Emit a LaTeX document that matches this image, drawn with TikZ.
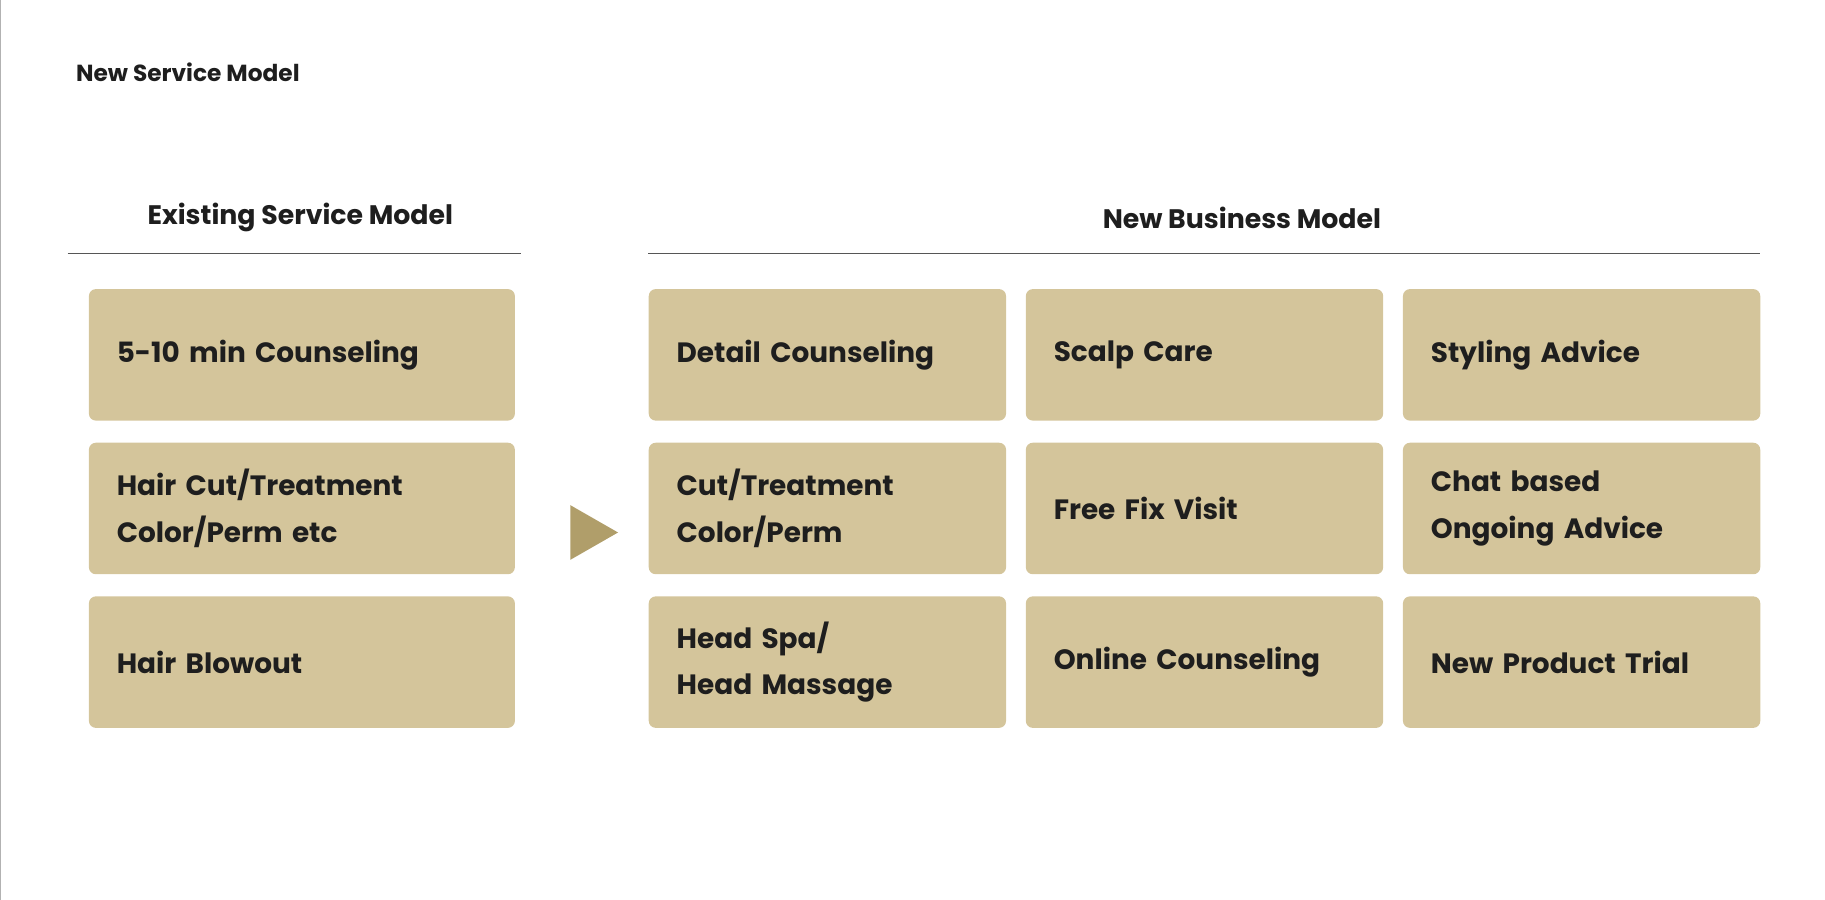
\documentclass[tikz,border=0pt]{standalone}
\usepackage{fontspec}
\setmainfont{Poppins}
\usetikzlibrary{positioning}
\definecolor{boxfill}{HTML}{D4C59B}
\definecolor{arrowfill}{HTML}{B09E6A}
\definecolor{ink}{HTML}{1E1E1E}
\tikzset{
  every picture/.style={line width=0.75pt},
  cell/.style={fill=boxfill, rounded corners=6pt, anchor=north west, inner xsep=24pt,
    minimum height=113pt, align=left, text=ink, font=\fontsize{24}{40}\selectfont\bfseries},
  wide/.style={cell, text width=318pt},
  narrow/.style={cell, text width=259pt},
  head/.style={text=ink, font=\fontsize{23}{28}\selectfont\bfseries, inner sep=0pt},
  rule/.style={draw=ink!75, line width=1.2pt}
}
\begin{document}
\begin{tikzpicture}[x=1pt,y=1pt,yscale=-1]
\useasboundingbox (0,0) rectangle (1568,773);
\draw[gray!60, line width=1pt] (0.5,0) -- (0.5,773);

% Title
\node[head, anchor=west, font=\fontsize{20}{24}\selectfont\bfseries] (title) at (65,62) {New Service Model};

% Headers
\node[head] (hexist) at (258,187) {Existing Service Model};
\node[head] (hnew) at (1067,187) {New Business Model};
\draw[rule] (58,218) -- (448,218);
\draw[rule] (557,218) -- (1512,218);

% Existing model
\node[wide] (e1) at (76,248) {5-10 min Counseling};
\node[wide] (e2) at (76,380) {Hair Cut/Treatment\\Color/Perm etc};
\node[wide] (e3) at (76,512) {Hair Blowout};

% Arrow
\fill[arrowfill] (490,434) -- (531,457.5) -- (490,481) -- cycle;

% New model
\node[narrow] (n11) at (557,248) {Detail Counseling};
\node[narrow] (n12) at (881,248) {Scalp Care};
\node[narrow] (n13) at (1205,248) {Styling Advice};
\node[narrow] (n21) at (557,380) {Cut/Treatment\\Color/Perm};
\node[narrow] (n22) at (881,380) {Free Fix Visit};
\node[narrow] (n23) at (1205,380) {Chat based\\Ongoing Advice};
\node[narrow] (n31) at (557,512) {Head Spa/\\Head Massage};
\node[narrow] (n32) at (881,512) {Online Counseling};
\node[narrow] (n33) at (1205,512) {New Product Trial};
\end{tikzpicture}
\end{document}
